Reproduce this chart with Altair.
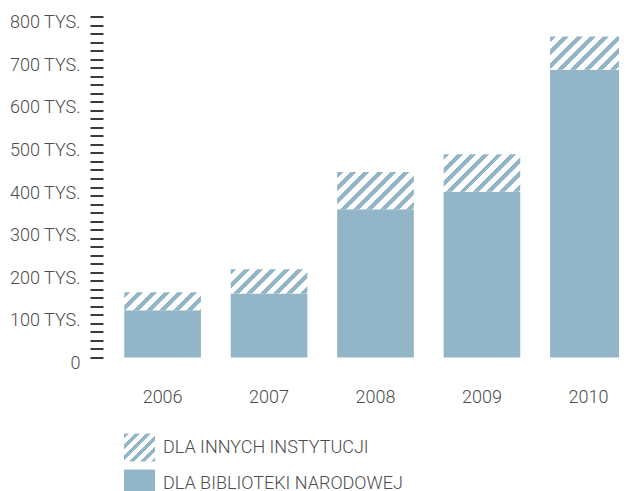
import json
import altair as alt

# ---- data ----
years = ["2006", "2007", "2008", "2009", "2010"]
bn_values = [111, 150, 348, 389, 675]        # DLA BIBLIOTEKI NARODOWEJ
total_values = [153, 207, 435, 477, 753]     # total (top of hatched part)
series_names = ["DLA INNYCH INSTYTUCJI", "DLA BIBLIOTEKI NARODOWEJ"]

# ---- styling constants ----
BLUE = "#92b5c7"
TEXT = "#4d4d4d"
FONT = "Roboto"
PLOT_H = 341
X_RANGE = 545
P_IN, P_OUT = 0.28, 0.2
step = X_RANGE / (len(years) - P_IN + 2 * P_OUT)
bar_w = step * (1 - P_IN)
px_per_unit = PLOT_H / 800


def stripe_stops(n, frac):
    stops = []
    for i in range(n):
        a, b, c = i / n, (i + frac) / n, (i + 1) / n
        stops += [
            {"offset": a, "color": BLUE},
            {"offset": b, "color": BLUE},
            {"offset": b, "color": "#ffffff"},
            {"offset": c, "color": "#ffffff"},
        ]
    return stops


def stripe_gradient(w, h, period, n, frac=0.45):
    # 45-degree "/" stripes in a w x h box (objectBoundingBox units)
    k = n * period / (w * w + h * h)
    return {"gradient": "linear", "x1": 0, "y1": 0,
            "x2": k * w, "y2": k * h, "stops": stripe_stops(n, frac)}


records = []
for y, b, t in zip(years, bn_values, total_values):
    h = (t - b) * px_per_unit
    records.append({
        "year": y, "bn": b, "total": t,
        "series": series_names[1],
        "grad": stripe_gradient(bar_w, h, 13.3, 10),
    })
data = alt.Data(values=records)

legend_grad = stripe_gradient(31, 28, 11, 7)
legend_expr = json.dumps(legend_grad)

x_enc = alt.X(
    "year:O",
    scale=alt.Scale(range=[0, X_RANGE], paddingInner=P_IN, paddingOuter=P_OUT),
    axis=alt.Axis(title=None, ticks=False, tickSize=0, domain=False,
                  labelAngle=0, labelPadding=40, labelBaseline="middle",
                  labelFont=FONT, labelFontSize=18, labelFontWeight=300,
                  labelColor=TEXT),
)

y_axis = alt.Axis(
    title=None, domain=False, grid=False,
    values=[v for v in range(0, 801, 20)],
    labelExpr="datum.value % 100 == 0 ? (datum.value == 0 ? '0' : datum.value + ' TYS.') : ''",
    tickSize=13, tickWidth=2, tickColor="#3a3a3a",
    labelPadding=10, labelOffset=6, labelOverlap=False, labelFlush=False,
    labelFont=FONT, labelFontSize=18, labelFontWeight=300, labelColor=TEXT,
)
y_scale = alt.Scale(domain=[0, 800], nice=False, zero=True)

solid = alt.Chart(data).mark_bar().encode(
    x=x_enc,
    y=alt.Y("bn:Q", stack=None, scale=y_scale, axis=y_axis),
    fill=alt.Fill(
        "series:N",
        scale=alt.Scale(domain=series_names, range=[{"expr": legend_expr}, BLUE]),
        legend=alt.Legend(
            orient="none", legendX=21, legendY=415.5, title=None,
            symbolType="M-1,-0.9H1V0.9H-1Z", symbolSize=961,
            symbolStrokeWidth=0, symbolOpacity=1,
            labelFont=FONT, labelFontSize=18, labelFontWeight=300,
            labelColor=TEXT, labelOffset=8, rowPadding=6, padding=0,
            labelLimit=500,
        ),
    ),
)

hatch = alt.Chart(data).mark_bar().encode(
    x=x_enc,
    y=alt.Y("bn:Q", stack=None, scale=y_scale, axis=y_axis),
    y2="total:Q",
    fill=alt.Fill("grad:N", scale=None, legend=None),
)

# svg kept at 611 px wide (the page body width) so it is not shrunk;
# the last bar runs past the right edge and is clipped, as in the reference
chart = (
    alt.layer(solid, hatch)
    .resolve_scale(fill="independent")
    .properties(
        width=516, height=PLOT_H,
        autosize=alt.AutoSizeParams(type="none"),
        padding={"left": 95, "top": 8.5, "right": 0, "bottom": 133.5},
        background="#ffffff",
    )
    .configure_view(stroke=None)
)

chart.save("out.html", embed_options={"renderer": "svg", "actions": False})
